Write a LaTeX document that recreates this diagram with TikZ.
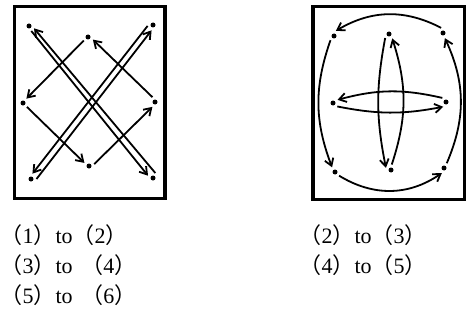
\documentclass[tikz,border=0pt]{standalone}
\usepackage{fontspec}
\setmainfont{Liberation Serif}
\newfontfamily\cjkfont{Noto Sans CJK SC}
\usetikzlibrary{arrows.meta}
\newcommand{\paren}[1]{{\cjkfont （}#1{\cjkfont ）}}

\begin{document}
\begin{tikzpicture}[x=1pt, y=1pt,
    dot/.style={circle, fill, inner sep=0pt, minimum size=5pt, outer sep=3pt},
    arr/.style={-{Straight Barb[length=7pt, width=9pt]}, line width=1.8pt},
    boxline/.style={line width=3.2pt},
    caption/.style={anchor=base west, inner sep=0pt, font=\fontsize{22}{26}\selectfont}]
  \useasboundingbox (0,0) rectangle (468,-329);
  % Left frame
  \draw[boxline] (14.5,-6.7) rectangle (165,-198.4);
  \node[dot] (tl) at (29,-26) {};
  \node[dot] (tm) at (88,-37) {};
  \node[dot] (tr) at (153,-25) {};
  \node[dot] (ml) at (23,-103) {};
  \node[dot] (mr) at (155,-102) {};
  \node[dot] (bl) at (31,-179) {};
  \node[dot] (bm) at (89,-166) {};
  \node[dot] (br) at (153,-178) {};
  % Crossing diagonals
  \draw[arr] (tl.-65) -- (br.155);
  \draw[arr] (br.65) -- (tl.-25);
  \draw[arr] (tr.190) -- (bl.75);
  \draw[arr] (bl.0) -- (tr.-105);
  % Inner diamond
  \draw[arr] (tm.220) -- (ml.52);
  \draw[arr] (ml.-45) -- (bm.146);
  \draw[arr] (bm.20) -- (mr.242);
  \draw[arr] (mr.118) -- (tm.-28);
  % Right frame
  \draw[boxline] (313,-6.7) rectangle (464.6,-199.8);
  \node[dot] (rtl) at (334,-36) {};
  \node[dot] (rtm) at (389,-34) {};
  \node[dot] (rtr) at (443,-33) {};
  \node[dot] (rml) at (333,-103) {};
  \node[dot] (rmr) at (446,-102) {};
  \node[dot] (rbl) at (335,-172) {};
  \node[dot] (rbm) at (391,-170) {};
  \node[dot] (rbr) at (444,-168) {};
  % Outer loop
  \draw[arr] (rtr.110) to[bend right=29] (rtl.70);
  \draw[arr] (rtl.230) to[bend right=20] (rbl.122);
  \draw[arr] (rbl.-42) to[bend right=33] (rbr.247);
  \draw[arr] (rbr.60) to[bend right=24] (rtr.-70);
  % Inner cross
  \draw[arr] (rmr.132) to[bend right=14] (rml.35);
  \draw[arr] (rml.-39) to[bend right=11] (rmr.240);
  \draw[arr] (rtm.226) to[bend right=11] (rbm.157);
  \draw[arr] (rbm.82) to[bend right=18] (rtm.-54);
  % Captions
  \node[caption] (c1) at (0.3,-243) {\paren{1}to\paren{2}};
  \node[caption] (c3) at (0.3,-273) {\paren{3}to\hspace{0.4em}\paren{4}};
  \node[caption] (c5) at (0.3,-303) {\paren{5}to\hspace{0.4em}\paren{6}};
  \node[caption] (c2) at (299.4,-243) {\paren{2}to\paren{3}};
  \node[caption] (c4) at (299.4,-273) {\paren{4}to\paren{5}};
\end{tikzpicture}
\end{document}
